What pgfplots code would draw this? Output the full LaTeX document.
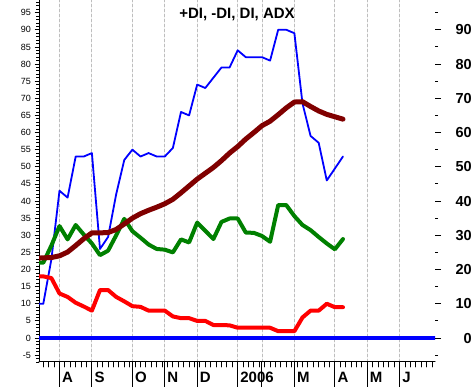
\documentclass[border=0pt]{standalone}
\usepackage{fontspec}
\setmainfont{Liberation Sans}
\usepackage{pgfplots}
\pgfplotsset{compat=1.18}
\definecolor{adxc}{RGB}{128,0,0}
\definecolor{dic}{RGB}{0,128,0}
\definecolor{gridg}{RGB}{190,190,190}
\begin{document}
\begin{tikzpicture}[x=1pt,y=1pt]
\useasboundingbox (0,0) rectangle (474,387);
\pgfplotsset{base/.style={
  at={(39pt,25pt)}, anchor=south west,
  scale only axis, width=396pt, height=362pt,
  xmin=-0.53, xmax=48.36, ymin=-7, ymax=98.7,
  /pgf/number format/assume math mode=true}}
% main axis: data, month axis, grid
\begin{axis}[base,
  axis x line*=bottom, axis y line*=left,
  axis line style={black, line width=1pt, -},
  ytick=\empty,
  xtick={2,6,11,15,19,24,27,31,36,40,44},
  xticklabels={A,S,O,N,D,2006,{},M,A,M,J},
  minor xtick={0,0.6667,...,48},
  tick align=outside,
  major tick length=25pt, minor tick length=5pt,
  tick style={black, line width=1pt},
  xmajorgrids,
  major grid style={gridg, dash pattern=on 3pt off 2pt, line width=0.8pt},
  xticklabel style={anchor=north west, font=\bfseries\fontsize{15}{15}\selectfont, inner sep=0pt, xshift=2.5pt, yshift=15pt},
  title={+DI, -DI, DI, ADX},
  title style={at={(0.5,1)}, anchor=north, font=\bfseries\fontsize{15}{15}\selectfont, inner sep=0pt, yshift=-14pt},
  line join=round, line cap=round,
]
\addplot[blue, line width=4pt, line cap=butt] coordinates {(-1,0) (49,0)};
\addplot[blue, line width=1.8pt] coordinates {
(-1,10)(0,10)(1,23)(2,43)(3,41)(4,53)(5,53)(6,54)(7,26)(8,29.5)(9,42)(10,52)
(11,55)(12,53)(13,54)(14,53)(15,53)(16,55.5)(17,66)(18,65)(19,74)(20,73)(21,76)
(22,79)(23,79)(24,84)(25,82)(26,82)(27,82)(28,81)(29,90)(30,90)(31,89)(32,68.5)
(33,59)(34,57)(35,46)(36,49.5)(37,53)};
\addplot[red, line width=4pt] coordinates {
(-1,18)(0,18)(1,17.5)(2,13)(3,12)(4,10.3)(5,9.2)(6,8)(7,14)(8,14)(9,12)(10,10.7)
(11,9.3)(12,9.1)(13,8)(14,8)(15,8)(16,6.3)(17,5.8)(18,5.8)(19,5)(20,5)(21,3.8)
(22,3.8)(23,3.7)(24,3)(25,3)(26,3)(27,3)(28,3)(29,2)(30,2)(31,2)(32,6)(33,8)
(34,8)(35,10)(36,9)(37,9)};
\addplot[dic, line width=4pt] coordinates {
(-1,22)(0,22)(1,27)(2,32.7)(3,28.8)(4,33)(5,30.2)(6,27.6)(7,24.2)(8,25.5)(9,30)
(10,34.8)(11,31.2)(12,29.3)(13,27.3)(14,26)(15,25.8)(16,25)(17,28.8)(18,27.9)
(19,33.7)(20,31.3)(21,28.9)(22,33.9)(23,34.9)(24,34.9)(25,30.8)(26,30.7)(27,29.8)
(28,28.1)(29,38.8)(30,38.8)(31,35.6)(32,33)(33,31.5)(34,29.5)(35,27.6)(36,25.9)(37,28.9)};
\addplot[adxc, line width=5pt] coordinates {
(-1,23.3)(0,23.4)(1,23.5)(2,24)(3,25.1)(4,27)(5,29)(6,30.7)(7,30.7)(8,30.8)(9,31.7)
(10,33.3)(11,35)(12,36.3)(13,37.3)(14,38.2)(15,39.2)(16,40.5)(17,42.4)(18,44.4)
(19,46.4)(20,48.1)(21,49.8)(22,51.8)(23,54)(24,55.9)(25,58.1)(26,60)(27,62)
(28,63.3)(29,65.2)(30,67.2)(31,68.9)(32,69)(33,67.6)(34,66.3)(35,65.3)(36,64.6)(37,63.9)};
\end{axis}
% left value axis
\begin{axis}[base,
  axis x line=none, axis y line*=left, axis line style={draw=none},
  ytick={-5,0,...,95}, minor ytick={-7,-6,...,98},
  tick align=outside, major tick length=4.5pt, minor tick length=2.7pt,
  tick style={black, line width=0.8pt},
  yticklabel style={font=\fontsize{9}{9}\selectfont},
]
\end{axis}
% right value axis
\begin{axis}[base,
  axis x line=none, axis y line*=right, axis line style={draw=none},
  ytick={0,10,...,90}, minor ytick={-5,5,...,95},
  tick align=outside, major tick length=6pt, minor tick length=3pt,
  tick style={black, line width=1pt},
  yticklabel style={font=\bfseries\fontsize{14.5}{14.5}\selectfont, anchor=east, inner sep=0pt, xshift=31pt},
]
\end{axis}
\end{tikzpicture}
\end{document}
